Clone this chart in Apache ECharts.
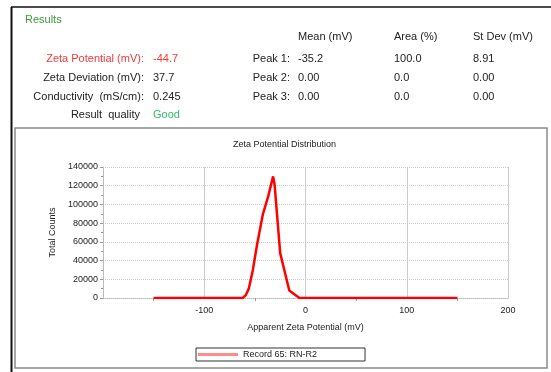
<!DOCTYPE html>
<html><head><meta charset="utf-8">
<script src="https://cdn.jsdelivr.net/npm/echarts@6/dist/echarts.min.js"></script>
<style>html,body{margin:0;padding:0;background:#fff;}#c{width:551px;height:372px;}</style>
</head><body><div id="c"></div>
<script>
// Distribution curve (Apparent Zeta Potential mV, Total Counts)
const xVals = [-150, -62, -59, -56, -52, -48, -42, -37, -32, -30.5, -25, -16, -6, 150];
const yVals = [0, 0, 3000, 10000, 30000, 56000, 90000, 108000, 130000, 121000, 48000, 8000, 0, 0];
const xTicks = [-200, -100, 0, 100, 200];
const seriesName = 'Record 65: RN-R2';

const headerCols = ['Mean (mV)', 'Area (%)', 'St Dev (mV)'];
const leftLabels = ['Zeta Potential (mV):', 'Zeta Deviation (mV):', 'Conductivity  (mS/cm):', 'Result  quality'];
const leftValues = ['-44.7', '37.7', '0.245', 'Good'];
const peakLabels = ['Peak 1:', 'Peak 2:', 'Peak 3:'];
const peakMean = ['-35.2', '0.00', '0.00'];
const peakArea = ['100.0', '0.0', '0.0'];
const peakSd = ['8.91', '0.00', '0.00'];

const FONT = '"Liberation Sans", Arial, sans-serif';
const rowsY = [59, 78, 97, 115];
const g = [];
function txt(x, y, s, align, color, size) {
  g.push({type:'text', x: x, y: y, style:{text:s, x:0, y:0, textAlign:align, textVerticalAlign:'middle', fill:color||'#222', font:(size||11)+'px '+FONT}});
}
// frames
g.push({type:'line', shape:{x1:11, y1:7, x2:551, y2:7}, style:{stroke:'#111', lineWidth:1.5}});
g.push({type:'line', shape:{x1:11.5, y1:7, x2:11.5, y2:372}, style:{stroke:'#111', lineWidth:2}});
g.push({type:'rect', shape:{x:15, y:128, width:532, height:240}, style:{fill:'none', stroke:'#8a8a8a', lineWidth:1.5}, z:-1});

txt(25, 20, 'Results', 'left', '#3c9a3c', 11);
const colX = [298, 394, 473];
headerCols.forEach((h,i)=>txt(colX[i], 37, h, 'left'));
leftLabels.forEach((l,i)=>{
  const red = i===0;
  txt(i===3?140:144, rowsY[i], l, 'right', red?'#f03a3a':'#222');
  txt(153, rowsY[i], leftValues[i], 'left', red?'#f03a3a':(i===3?'#2fbf5f':'#222'));
});
peakLabels.forEach((p,i)=>{
  txt(290, rowsY[i], p, 'right');
  txt(colX[0], rowsY[i], peakMean[i], 'left');
  txt(colX[1], rowsY[i], peakArea[i], 'left');
  txt(colX[2], rowsY[i], peakSd[i], 'left');
});

const chart = echarts.init(document.getElementById('c'));
chart.setOption({
  animation:false,
  textStyle:{fontFamily:FONT},
  title:{text:'Zeta Potential Distribution', left:228, top:135, textStyle:{fontSize:9, fontWeight:'normal', color:'#222'}},
  grid:{left:103, right:43, top:167, bottom:74},
  legend:{left:196, top:348, padding:[2,48,2,2], itemWidth:40, itemHeight:3, itemGap:5,
    borderColor:'#333', borderWidth:1, borderRadius:0,
    textStyle:{fontSize:9, color:'#222'},
    data:[{name:seriesName, icon:'rect', itemStyle:{color:'#ff8c8c'}}]},
  xAxis:{type:'value', min:-200, max:200, interval:100,
    name:'Apparent Zeta Potential (mV)', nameLocation:'middle', nameGap:25,
    nameTextStyle:{fontSize:9, color:'#222'},
    axisLine:{show:true, lineStyle:{color:'#bbb', type:'dotted'}},
    axisTick:{show:false},
    minorTick:{show:true, splitNumber:2, length:3, lineStyle:{color:'#999'}},
    axisLabel:{fontSize:9, color:'#222', margin:8, formatter:v=>v===-200?'':String(v)},
    splitLine:{show:true, lineStyle:{color:'#ccc', width:1}}},
  yAxis:{type:'value', min:0, max:140000, interval:20000,
    name:'Total Counts', nameLocation:'middle', nameGap:36,
    nameTextStyle:{fontSize:9, color:'#222'},
    axisLine:{show:true, onZero:false, lineStyle:{color:'#bbb'}},
    axisTick:{show:true, length:3, lineStyle:{color:'#999'}},
    minorTick:{show:true, splitNumber:2, length:2, lineStyle:{color:'#999'}},
    axisLabel:{fontSize:9, color:'#222', margin:5, formatter:v=>String(v)},
    splitLine:{show:true, lineStyle:{color:'#ccc', type:'dotted'}}},
  series:[{name:seriesName, type:'line', showSymbol:false, symbol:'none',
    lineStyle:{color:'#ff0000', width:2.5}, itemStyle:{color:'#ff0000'},
    data:xVals.map((x,i)=>[x, yVals[i]])}],
  graphic:g
});
</script></body></html>
